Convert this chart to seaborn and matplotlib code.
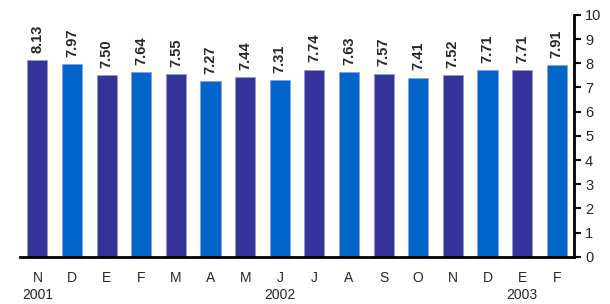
import pandas as pd
import seaborn as sns
import matplotlib.pyplot as plt

MONTHS = ["N", "D", "E", "F", "M", "A", "M", "J", "J", "A", "S", "O", "N", "D", "E", "F"]
VALUES = [8.13, 7.97, 7.50, 7.64, 7.55, 7.27, 7.44, 7.31, 7.74, 7.63, 7.57, 7.41, 7.52, 7.71, 7.71, 7.91]
YEARS = {0: "2001", 7: "2002", 14: "2003"}
DARK = "#333399"
BLUE = "#0066CC"


def main():
    sns.set_style("white")
    plt.rcParams["font.family"] = ["Liberation Sans", "DejaVu Sans"]

    df = pd.DataFrame({"pos": range(len(VALUES)), "value": VALUES})
    palette = [DARK if i % 2 == 0 else BLUE for i in range(len(VALUES))]

    fig = plt.figure(figsize=(6.10, 3.04), dpi=100)
    ax = fig.add_axes([0.033, 0.155, 0.908, 0.796])
    sns.barplot(data=df, x="pos", y="value", hue="pos", palette=palette, legend=False,
                saturation=1, width=0.58, edgecolor="#9999cc", linewidth=0.6, ax=ax)

    # value labels
    for i, v in enumerate(VALUES):
        ax.text(i, v + 0.3, f"{v:.2f}", rotation=90, ha="center", va="bottom",
                fontsize=10.5, fontweight="bold",
                family=["Liberation Sans Narrow", "Liberation Sans", "DejaVu Sans"])

    ax.set_xlim(-0.5, len(VALUES) - 0.5)
    ax.set_ylim(0, 10)
    ax.set_xlabel("")
    ax.set_ylabel("")

    labels = [m + "\n" + YEARS.get(i, "") for i, m in enumerate(MONTHS)]
    ax.set_xticks(range(len(VALUES)))
    ax.set_xticklabels(labels, fontsize=10, linespacing=1.3, va="top")
    ax.set_xticks([i - 0.5 for i in range(len(VALUES) + 1)], minor=True)
    ax.tick_params(axis="x", which="major", length=0, pad=10)
    ax.tick_params(axis="x", which="minor", length=4, width=1.5, direction="out", color="black")

    ax.yaxis.tick_right()
    ax.set_yticks(range(0, 11))
    ax.tick_params(axis="y", length=5, width=1.5, direction="out", labelsize=10.5, pad=3, color="black")

    for side in ["top", "left"]:
        ax.spines[side].set_visible(False)
    for side in ["bottom", "right"]:
        ax.spines[side].set_color("black")
        ax.spines[side].set_linewidth(2)

    fig.savefig("out.png", dpi=100)


if __name__ == "__main__":
    main()
